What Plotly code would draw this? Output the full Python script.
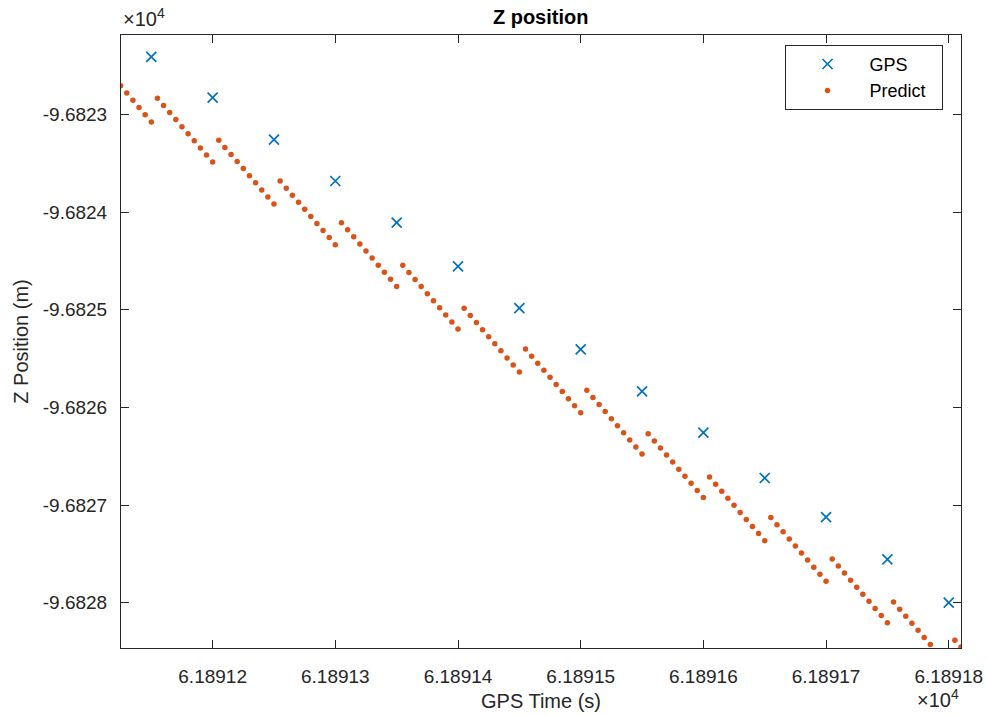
import plotly.graph_objects as go

# ---------------- data ----------------
gps_t = [61891.15, 61891.20, 61891.25, 61891.30, 61891.35, 61891.40, 61891.45,
         61891.50, 61891.55, 61891.60, 61891.65, 61891.70, 61891.75, 61891.80]
gps_z = [-96822.408, -96822.826, -96823.256, -96823.680, -96824.107, -96824.554, -96824.982,
         -96825.405, -96825.835, -96826.258, -96826.723, -96827.123, -96827.556, -96828.000]

predict_t = [
    61891.125, 61891.130, 61891.135, 61891.140, 61891.145, 61891.150,
    61891.155, 61891.160, 61891.165, 61891.170, 61891.175, 61891.180, 61891.185, 61891.190, 61891.195, 61891.200,
    61891.205, 61891.210, 61891.215, 61891.220, 61891.225, 61891.230, 61891.235, 61891.240, 61891.245, 61891.250,
    61891.255, 61891.260, 61891.265, 61891.270, 61891.275, 61891.280, 61891.285, 61891.290, 61891.295, 61891.300,
    61891.305, 61891.310, 61891.315, 61891.320, 61891.325, 61891.330, 61891.335, 61891.340, 61891.345, 61891.350,
    61891.355, 61891.360, 61891.365, 61891.370, 61891.375, 61891.380, 61891.385, 61891.390, 61891.395, 61891.400,
    61891.405, 61891.410, 61891.415, 61891.420, 61891.425, 61891.430, 61891.435, 61891.440, 61891.445, 61891.450,
    61891.455, 61891.460, 61891.465, 61891.470, 61891.475, 61891.480, 61891.485, 61891.490, 61891.495, 61891.500,
    61891.505, 61891.510, 61891.515, 61891.520, 61891.525, 61891.530, 61891.535, 61891.540, 61891.545, 61891.550,
    61891.555, 61891.560, 61891.565, 61891.570, 61891.575, 61891.580, 61891.585, 61891.590, 61891.595, 61891.600,
    61891.605, 61891.610, 61891.615, 61891.620, 61891.625, 61891.630, 61891.635, 61891.640, 61891.645, 61891.650,
    61891.655, 61891.660, 61891.665, 61891.670, 61891.675, 61891.680, 61891.685, 61891.690, 61891.695, 61891.700,
    61891.705, 61891.710, 61891.715, 61891.720, 61891.725, 61891.730, 61891.735, 61891.740, 61891.745, 61891.750,
    61891.755, 61891.760, 61891.765, 61891.770, 61891.775, 61891.780, 61891.785, 61891.790, 61891.795, 61891.800,
    61891.805, 61891.810,
]
predict_z = [
    -96822.705, -96822.779, -96822.853, -96822.927, -96823.001, -96823.075,
    -96822.833, -96822.906, -96822.978, -96823.051, -96823.123, -96823.196, -96823.268, -96823.341, -96823.413, -96823.486,
    -96823.263, -96823.336, -96823.408, -96823.481, -96823.553, -96823.626, -96823.698, -96823.771, -96823.843, -96823.916,
    -96823.680, -96823.753, -96823.825, -96823.898, -96823.970, -96824.043, -96824.115, -96824.188, -96824.260, -96824.333,
    -96824.107, -96824.180, -96824.252, -96824.325, -96824.397, -96824.470, -96824.542, -96824.615, -96824.687, -96824.760,
    -96824.544, -96824.617, -96824.689, -96824.762, -96824.834, -96824.907, -96824.979, -96825.052, -96825.124, -96825.197,
    -96824.985, -96825.058, -96825.130, -96825.203, -96825.275, -96825.348, -96825.420, -96825.493, -96825.565, -96825.638,
    -96825.402, -96825.475, -96825.547, -96825.620, -96825.692, -96825.765, -96825.837, -96825.910, -96825.982, -96826.055,
    -96825.825, -96825.898, -96825.970, -96826.043, -96826.115, -96826.188, -96826.260, -96826.333, -96826.405, -96826.478,
    -96826.270, -96826.343, -96826.415, -96826.488, -96826.560, -96826.633, -96826.705, -96826.778, -96826.850, -96826.923,
    -96826.713, -96826.786, -96826.858, -96826.931, -96827.003, -96827.076, -96827.148, -96827.221, -96827.293, -96827.366,
    -96827.129, -96827.202, -96827.274, -96827.347, -96827.419, -96827.492, -96827.564, -96827.637, -96827.709, -96827.782,
    -96827.552, -96827.625, -96827.697, -96827.770, -96827.842, -96827.915, -96827.987, -96828.060, -96828.132, -96828.205,
    -96827.994, -96828.067, -96828.139, -96828.212, -96828.284, -96828.357, -96828.429, -96828.502, -96828.574, -96828.647,
    -96828.386, -96828.455,
]

x_tickvals = [61891.2, 61891.3, 61891.4, 61891.5, 61891.6, 61891.7, 61891.8]
x_ticktext = ["6.18912", "6.18913", "6.18914", "6.18915", "6.18916", "6.18917", "6.18918"]
y_tickvals = [-96823, -96824, -96825, -96826, -96827, -96828]
y_ticktext = ["-9.6823", "-9.6824", "-9.6825", "-9.6826", "-9.6827", "-9.6828"]

# ---------------- figure ----------------
AX = "#262626"
FONT = "Liberation Sans, Arial, Helvetica, sans-serif"
NB = "\u00a0"

fig = go.Figure()
fig.add_trace(go.Scatter(
    x=gps_t, y=gps_z, mode="markers", name="GPS",
    marker=dict(symbol="x-thin", size=10, color="#0072BD",
                line=dict(width=1.7, color="#0072BD")),
))
fig.add_trace(go.Scatter(
    x=predict_t, y=predict_z, mode="markers", name="Predict" + NB * 2,
    marker=dict(symbol="circle", size=5.5, color="#D95319", line=dict(width=0)),
))

axis_common = dict(
    showline=True, linecolor=AX, linewidth=1, mirror="ticks",
    ticks="inside", ticklen=8, tickwidth=1, tickcolor=AX,
    showgrid=False, zeroline=False, automargin=False,
    tickfont=dict(family=FONT, size=19, color=AX),
)

fig.update_layout(
    width=989, height=715,
    margin=dict(l=121, r=28, t=35, b=67, autoexpand=False),
    paper_bgcolor="white", plot_bgcolor="white",
    title=dict(text="<b>Z position</b>", x=0.5467, xanchor="center",
               y=1 - 17 / 715, yanchor="middle",
               font=dict(family=FONT, size=20, color="#000000")),
    xaxis=dict(range=[61891.1253, 61891.8100], tickmode="array",
               tickvals=x_tickvals, ticktext=x_ticktext,
               ticklabelstandoff=11,
               title=dict(text="GPS Time (s)", standoff=8,
                          font=dict(family=FONT, size=20, color=AX)),
               **axis_common),
    yaxis=dict(range=[-96828.465, -96822.184], tickmode="array",
               tickvals=y_tickvals, ticktext=y_ticktext,
               ticklabelstandoff=9,
               title=dict(text="Z Position (m)", standoff=8,
                          font=dict(family=FONT, size=20, color=AX)),
               **axis_common),
    legend=dict(x=0.978, xanchor="right", y=0.984, yanchor="top",
                bordercolor=AX, borderwidth=1, bgcolor="white",
                itemwidth=74,
                font=dict(family=FONT, size=18, color="#000000")),
    showlegend=True,
    annotations=[
        dict(text="×10<sup>4</sup>", xref="paper", yref="paper",
             x=0.0, xanchor="left", y=1 + 3 / 613, yanchor="bottom",
             showarrow=False, font=dict(family=FONT, size=20, color=AX)),
        dict(text="×10<sup>4</sup>", xref="paper", yref="paper",
             x=1.0, xanchor="right", y=-(713 - 648) / 613, yanchor="bottom",
             showarrow=False, font=dict(family=FONT, size=20, color=AX)),
    ],
)

fig.write_html("out.html")
